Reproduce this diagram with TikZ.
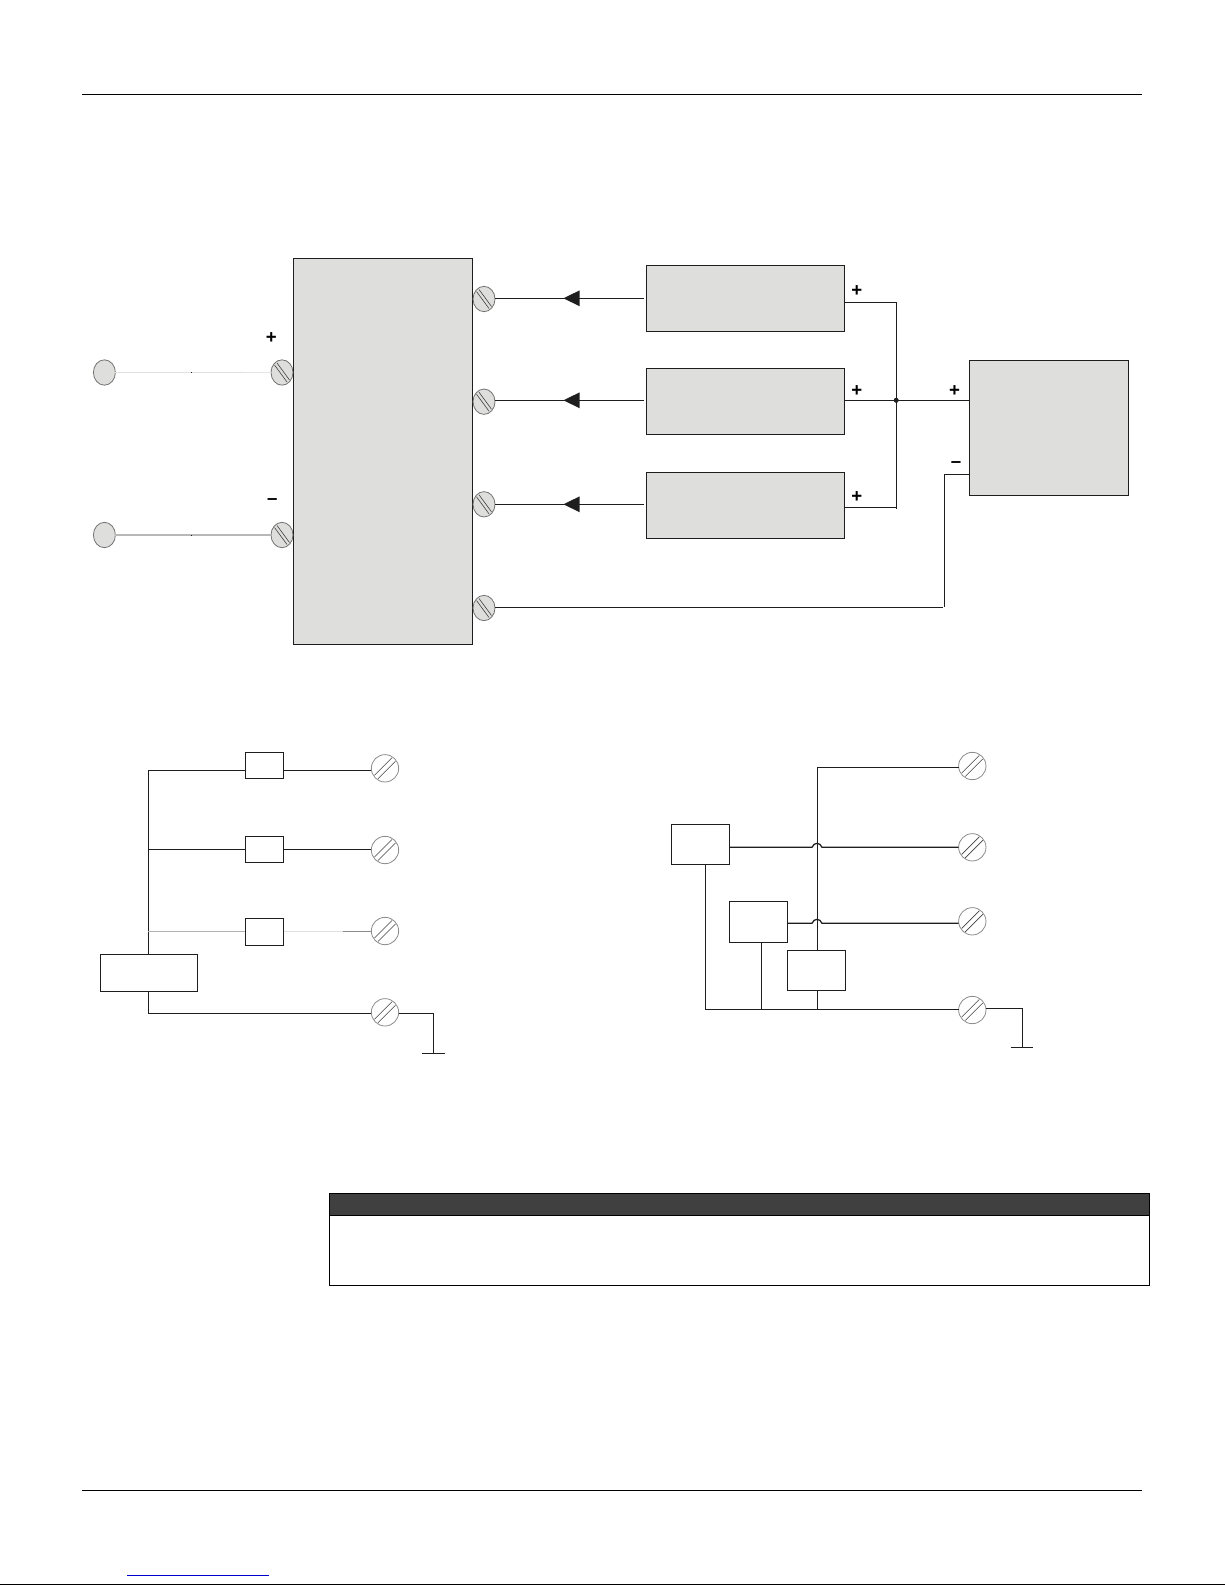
\documentclass[tikz,border=0pt]{standalone}
\usepackage{fontspec}
\setmainfont{Liberation Sans}
\usetikzlibrary{shapes.geometric}
\definecolor{ink}{HTML}{1E1E1E}
\definecolor{panel}{HTML}{DEDEDC}
\definecolor{ruledark}{HTML}{404040}
\definecolor{linkblue}{HTML}{0000CC}
\tikzset{
  x=0.75pt,y=-0.75pt,
  wire/.style={draw=ink,line width=0.95pt},
  faint/.style={draw=black!12,line width=0.85pt},
  mid/.style={draw=black!28,line width=0.8pt},
  panelbox/.style={draw=ink,line width=0.95pt,fill=panel,inner sep=0pt,outer sep=0pt},
  plainbox/.style={draw=ink,line width=0.95pt,fill=white,inner sep=0pt,outer sep=0pt},
  rule/.style={draw=black,line width=0.78pt},
  greyterm/.style={ellipse,draw=black!55,line width=0.6pt,fill=panel,inner sep=0pt,outer sep=0pt,minimum width=16.5pt,minimum height=19pt},
  whiteterm/.style={circle,draw=black!45,line width=0.6pt,fill=white,inner sep=0pt,outer sep=0pt,minimum size=20.5pt},
  slot/.style={draw=black!75,line width=0.45pt},
  sign/.style={font=\fontsize{14}{14}\selectfont\bfseries,text=black,inner sep=0pt},
  tip/.style={fill=ink,draw=none}
}
% name, style, x1, y1, x2, y2
\newcommand{\pxbox}[6]{\node[#2,minimum width={((#5)-(#3))*0.75pt},minimum height={((#6)-(#4))*0.75pt}] (#1) at ({((#3)+(#5))/2},{((#4)+(#6))/2}) {};}
\newcommand{\greyscrew}[3]{\node[greyterm] (#1) at (#2,#3) {};
  \draw[slot] (#2-7.5,#3-7.5)--(#2+5,#3+9.5);
  \draw[slot] (#2-5,#3-9.5)--(#2+7.5,#3+7.5);}
\newcommand{\whitescrew}[3]{\node[whiteterm] (#1) at (#2,#3) {};
  \draw[slot] (#2-10.5,#3+7)--(#2+7,#3-10.5);
  \draw[slot] (#2-7,#3+10.5)--(#2+10.5,#3-7);}
\begin{document}
\begin{tikzpicture}
\useasboundingbox (0,0) rectangle (1225,1585);
% page rules
\coordinate (ra) at (82,94.5); \coordinate (rb) at (1142,94.5);
\coordinate (rc) at (82,1490.5); \coordinate (rd) at (1142,1490.5);
\coordinate (re) at (0,1584.5); \coordinate (rf) at (1225,1584.5);
\coordinate (la) at (127.3,1575.5); \coordinate (lb) at (268.7,1575.5);
\draw[rule] (ra)--(rb);
\draw[rule] (rc)--(rd);
\draw[rule] (re)--(rf);
\draw[draw=linkblue,line width=0.78pt] (la)--(lb);

% upper diagram
\pxbox{main}{panelbox}{293.4}{258.3}{472.5}{644.3}
\pxbox{pa}{panelbox}{646.2}{265.3}{844.5}{331.3}
\pxbox{pb}{panelbox}{646.2}{368.3}{844.5}{434.3}
\pxbox{pc}{panelbox}{646.2}{472.3}{844.5}{538.3}
\pxbox{load}{panelbox}{969.5}{360.3}{1128.5}{495.3}

\node[greyterm] (in1) at (104.4,372.5) {};
\node[greyterm] (in2) at (104.4,535) {};
\greyscrew{sl1}{282}{372.5}
\greyscrew{sl2}{282}{535}
\greyscrew{sr1}{484}{299}
\greyscrew{sr2}{484}{401.7}
\greyscrew{sr3}{484}{504.3}
\greyscrew{sr4}{484}{608}

\draw[faint] (in1.east)--(sl1.west);
\draw[draw=black!10,line width=1.3pt] (245,372.5)--(sl1.west);
\draw[mid] (in2.east)--(sl2.west);
\fill[ink] (191,372) rectangle (192,373);
\fill[ink] (191,534.5) rectangle (192,535.5);

\coordinate (wa) at (643.5,298.3);
\coordinate (wb) at (643.5,400.3);
\coordinate (wc) at (643.5,504.3);
\draw[wire] (wa)--(wa-|sr1.east);
\draw[wire] (wb)--(wb-|sr2.east);
\draw[wire] (wc)--(wc-|sr3.east);
\fill[tip] (563.5,298.3)--(579.7,290.3)--(579.7,306.3)--cycle;
\fill[tip] (563.5,400.3)--(579.7,392.3)--(579.7,408.3)--cycle;
\fill[tip] (563.5,504.3)--(579.7,496.3)--(579.7,512.3)--cycle;

\coordinate (bt) at (896.2,302.3);
\coordinate (bm) at (896.2,400.3);
\coordinate (bb) at (896.2,507.3);
\draw[wire] (bt-|pa.east)--(bt)--(896.2,508.6);
\draw[wire] (bb-|pc.east)--(bb);
\draw[wire] (bm-|pb.east)--(bm-|load.west);
\fill[ink] (bm) circle (1.9pt);

\coordinate (nk) at (944.5,474.3);
\coordinate (nb) at (944.5,607.3);
\coordinate (ne) at (942.5,607.3);
\draw[wire] (nk-|load.west)--(nk)--(nb);
\draw[wire] (sr4.east|-ne)--(ne);

\node[sign] (p0) at (271.3,338) {+};
\node[sign] (m0) at (272.4,501.5) {–};
\node[sign] (p1) at (856.8,291) {+};
\node[sign] (p2) at (856.8,391) {+};
\node[sign] (p3) at (856.8,497.5) {+};
\node[sign] (p4) at (954.6,391) {+};
\node[sign] (m1) at (956,465) {–};

% lower left
\pxbox{fa}{plainbox}{245.3}{752.3}{283.7}{778.3}
\pxbox{fb}{plainbox}{245.3}{836.3}{283.7}{862.3}
\pxbox{fc}{plainbox}{245.3}{918.3}{283.7}{945.3}
\pxbox{src}{plainbox}{100.3}{954.3}{197.7}{991.3}
\whitescrew{la1}{385}{768.3}
\whitescrew{la2}{385}{850}
\whitescrew{la3}{385}{931}
\whitescrew{la4}{385}{1012.3}
\coordinate (lt) at (148.3,770.3);
\coordinate (lm) at (148.3,849.3);
\coordinate (lc) at (148.3,931.7);
\coordinate (lbot) at (148.3,1013.3);
\coordinate (lr) at (433.3,1013.3);
\coordinate (lg) at (433.3,1053.3);
\coordinate (lg1) at (422.3,1053.3);
\coordinate (lg2) at (445,1053.3);
\draw[wire] (fa.west|-lt)--(lt)--(src.north-|lt);
\draw[wire] (fa.east|-lt)--(la1.west|-lt);
\draw[wire] (lm)--(lm-|fb.west);
\draw[wire] (lm-|fb.east)--(lm-|la2.west);
\draw[draw=black!30,line width=0.9pt] (lc)--(lc-|fc.west);
\draw[faint] (lc-|fc.east)--(343,931.7);
\draw[draw=black!45,line width=0.7pt] (343,931.7)--(lc-|la3.west);
\draw[wire] (lt|-src.south)--(lbot)--(lbot-|la4.west);
\draw[wire] (lbot-|la4.east)--(lr)--(lg);
\draw[wire] (lg1)--(lg2);

% lower right
\pxbox{ba}{plainbox}{671.3}{824.3}{729.7}{864.7}
\pxbox{bbx}{plainbox}{729.3}{901.3}{787.7}{942.3}
\pxbox{bc}{plainbox}{787.7}{950.3}{845.7}{990.3}
\whitescrew{ra1}{972.3}{766}
\whitescrew{ra2}{972.3}{847.3}
\whitescrew{ra3}{972.3}{921.3}
\whitescrew{ra4}{972.3}{1010}
\coordinate (vt) at (817.3,767.3);
\coordinate (vb) at (817.3,1009.3);
\coordinate (ga) at (705.3,1009.3);
\coordinate (gb) at (761.3,1009.3);
\coordinate (jl) at (817.3,847.3);
\coordinate (jm) at (817.3,923.3);
\coordinate (er) at (1022.3,1008.3);
\coordinate (eg) at (1022.3,1047.7);
\coordinate (eg1) at (1010.7,1047.7);
\coordinate (eg2) at (1033,1047.7);
\draw[wire] (vt-|ra1.west)--(vt)--(vt|-bc.north);
\draw[wire] (vb|-bc.south)--(vb);
\draw[wire] (ba.east|-jl)--(812,847.3) .. controls (814,842) and (820,842) .. (822,847.3)--(jl-|ra2.west);
\draw[wire] (bbx.east|-jm)--(812,923.3) .. controls (814,918) and (820,918) .. (822,923.3)--(jm-|ra3.west);
\draw[wire] (ga|-ba.south)--(ga)--(ga-|ra4.west);
\draw[wire] (gb|-bbx.south)--(gb);
\draw[wire] (ra4.east|-er)--(er)--(eg);
\draw[wire] (eg1)--(eg2);

% note box
\pxbox{note}{draw=black,line width=1pt,fill=white,inner sep=0pt,outer sep=0pt}{329.3}{1193.7}{1149.4}{1285.3}
\pxbox{head}{draw=black,line width=1pt,fill=ruledark,inner sep=0pt,outer sep=0pt}{329.3}{1193.7}{1149.4}{1215.3}
\end{tikzpicture}
\end{document}
